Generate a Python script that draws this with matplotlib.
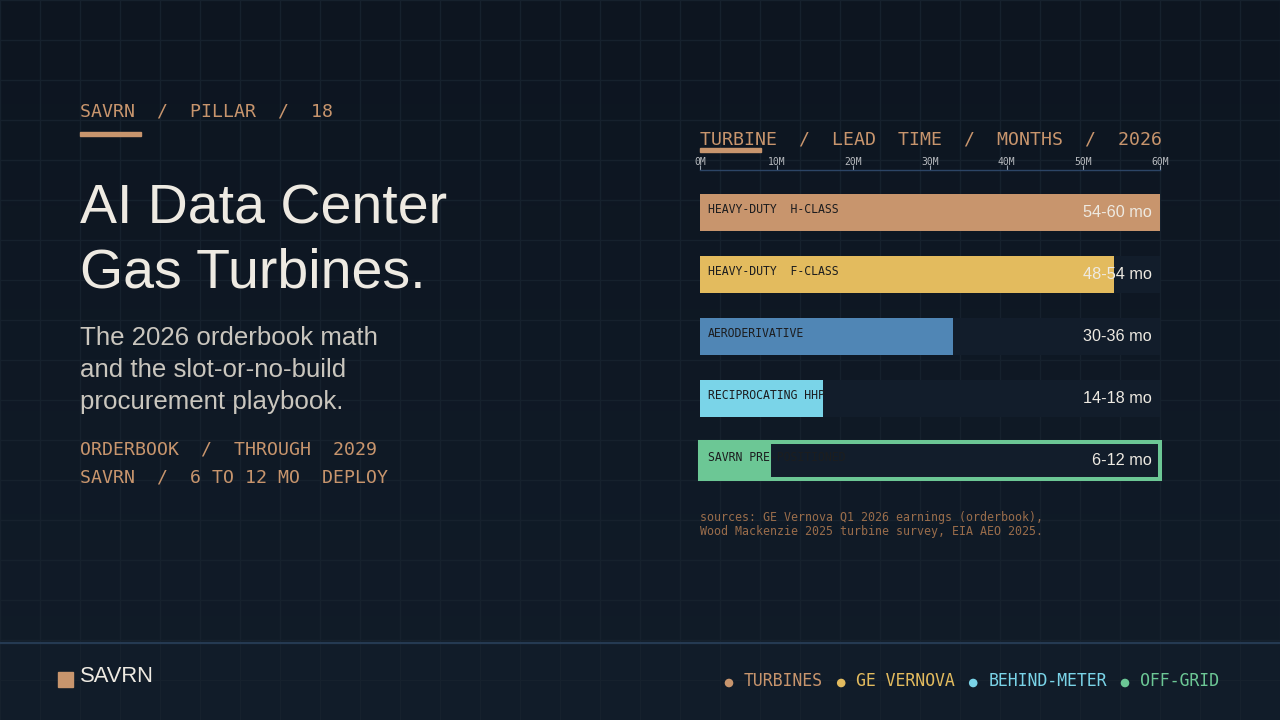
"""
SAVRN pillar 18: gas turbine lead times, rendered as a 1280x720 card.
"""

import matplotlib
matplotlib.use("Agg")

import matplotlib.pyplot as plt
import numpy as np
from matplotlib.patches import Rectangle, Circle

# ------------------------------------------------------------------
# Data
# ------------------------------------------------------------------
categories = [
    "HEAVY-DUTY  H-CLASS",
    "HEAVY-DUTY  F-CLASS",
    "AERODERIVATIVE",
    "RECIPROCATING HHP",
    "SAVRN PRE-POSITIONED",
]
lead_months = [60, 54, 33, 16, 9]
lead_labels = ["54-60 mo", "48-54 mo", "30-36 mo", "14-18 mo", "6-12 mo"]
axis_ticks = [0, 10, 20, 30, 40, 50, 60]
axis_tick_labels = ["0M", "10M", "20M", "30M", "40M", "50M", "60M"]
legend_items = ["TURBINES", "GE VERNOVA", "BEHIND-METER", "OFF-GRID"]

# ------------------------------------------------------------------
# Style
# ------------------------------------------------------------------
W, H = 1280, 720
SANS = "Liberation Sans"
MONO = "DejaVu Sans Mono"
ORANGE = "#c8956d"
YELLOW = "#e3bb5e"
BLUE = "#5086b5"
CYAN = "#7ad4e8"
GREEN = "#6cc795"
TEXT = "#eeeae2"
SUBTEXT = "#cac6be"
TRACK = "#121d2b"
MONO_PT = 13.16
bar_colors = [ORANGE, YELLOW, BLUE, CYAN, GREEN]
legend_colors = [ORANGE, YELLOW, CYAN, GREEN]

fig = plt.figure(figsize=(W / 100, H / 100), dpi=100)

# Full-canvas axes in pixel units for the backdrop and free text
bg = fig.add_axes([0, 0, 1, 1])
bg.set_xlim(0, W)
bg.set_ylim(H, 0)
bg.axis("off")

grad = np.linspace(0, 1, 256)[:, None]
bg.imshow(grad, extent=[0, W, H, 0], aspect="auto", zorder=0,
          cmap=matplotlib.colors.LinearSegmentedColormap.from_list(
              "bgc", ["#0d1520", "#111c29"]))
bg.add_patch(Rectangle((0, 642), W, 78, color="#111c29", zorder=0.5))

for gx in np.arange(0, W + 1, 40):
    bg.axvline(gx, color="#16212d", lw=1, zorder=1)
for gy in np.arange(0, H + 1, 40):
    bg.axhline(gy, color="#16212d", lw=1, zorder=1)
bg.axhline(642.5, color="#253a52", lw=1.6, zorder=2)

# Left column
bg.text(80, 111, "SAVRN  /  PILLAR  /  18", family=MONO, fontsize=MONO_PT,
        color=ORANGE, va="center", ha="left", zorder=3)
bg.add_patch(Rectangle((80, 132), 61, 4, color=ORANGE, zorder=3))
bg.text(80, 223, "AI Data Center", family=SANS, fontsize=40,
        color=TEXT, va="baseline", ha="left", zorder=3)
bg.text(80, 288, "Gas Turbines.", family=SANS, fontsize=40,
        color=TEXT, va="baseline", ha="left", zorder=3)
for i, line in enumerate(["The 2026 orderbook math",
                          "and the slot-or-no-build",
                          "procurement playbook."]):
    bg.text(80, 338 + 32 * i, line, family=SANS, fontsize=18.6,
            color=SUBTEXT, va="center", ha="left", zorder=3)
bg.text(80, 449, "ORDERBOOK  /  THROUGH  2029", family=MONO, fontsize=MONO_PT,
        color=ORANGE, va="center", ha="left", zorder=3)
bg.text(80, 477, "SAVRN  /  6 TO 12 MO  DEPLOY", family=MONO, fontsize=MONO_PT,
        color=ORANGE, va="center", ha="left", zorder=3)

# Chart heading
bg.text(700, 139, "TURBINE  /  LEAD  TIME  /  MONTHS  /  2026", family=MONO,
        fontsize=MONO_PT, color=ORANGE, va="center", ha="left", zorder=3)
bg.add_patch(Rectangle((700, 148), 61, 4, color=ORANGE, zorder=3))

# Sources
bg.text(700, 517, "sources: GE Vernova Q1 2026 earnings (orderbook),",
        family=MONO, fontsize=8.4, color="#9a6d4b", va="center", zorder=3)
bg.text(700, 531, "Wood Mackenzie 2025 turbine survey, EIA AEO 2025.",
        family=MONO, fontsize=8.4, color="#9a6d4b", va="center", zorder=3)

# Footer
bg.add_patch(Rectangle((58, 672), 15, 15, color=ORANGE, zorder=3))
bg.text(80, 677, "SAVRN", family=SANS, fontsize=15.8, color=TEXT,
        va="center", ha="left", zorder=3)

char_w = 9.9
x = 729
for label, col in zip(legend_items, legend_colors):
    bg.add_patch(Circle((x, 683), 3.6, color=col, zorder=3))
    bg.text(x + 15, 681, label, family=MONO, fontsize=11.9, color=col,
            va="center", ha="left", zorder=3)
    x += 15 + char_w * len(label) + 18

# ------------------------------------------------------------------
# Bar chart axes
# ------------------------------------------------------------------
ax_top, ax_bot = 170, 500
ax = fig.add_axes([700 / W, (H - ax_bot) / H, 460 / W, (ax_bot - ax_top) / H])
ax.set_facecolor("none")
pitch = 62
ypos = np.arange(len(categories))
ax.set_xlim(0, 60)
ax.set_ylim(len(categories) - 1 + (ax_bot - 460.5) / pitch,
            -(212.5 - ax_top) / pitch)

for y, cat, val, lab, col in zip(ypos, categories, lead_months,
                                 lead_labels, bar_colors):
    highlight = cat.startswith("SAVRN")
    ax.barh(y, 60, height=0.6, color=TRACK,
            edgecolor=GREEN if highlight else "none",
            linewidth=2.9 if highlight else 0, zorder=2, clip_on=False)
    ax.barh(y, val, height=0.6, color=col,
            edgecolor=col if highlight else "none",
            linewidth=2.9 if highlight else 0, zorder=3, clip_on=False)
    ax.text(1.05, y - 0.05, cat, family=MONO, fontsize=8.3, color="#1c1d1f",
            va="center", ha="left", zorder=4)
    ax.text(58.95, y, lab, family=SANS, fontsize=11.7, color=TEXT,
            va="center", ha="right", zorder=4)

for side in ["left", "right", "bottom"]:
    ax.spines[side].set_visible(False)
ax.spines["top"].set_color("#2c4566")
ax.spines["top"].set_linewidth(1)
ax.xaxis.tick_top()
ax.set_xticks(axis_ticks)
ax.set_xticklabels(axis_tick_labels, family=MONO, fontsize=7.0, color="#b9bcc0")
ax.tick_params(axis="x", length=3.6, width=0.8, color="#9aa4b0", pad=-1.5)
ax.set_yticks([])

fig.savefig("out.png", dpi=100, facecolor="#0d1520")
